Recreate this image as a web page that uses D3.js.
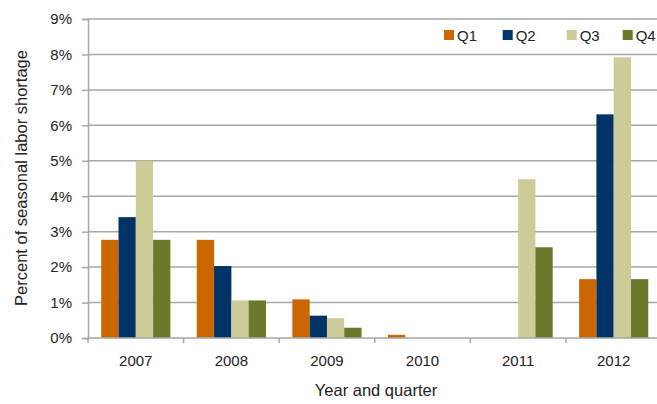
<!DOCTYPE html>
<html>
<head>
<meta charset="utf-8">
<script src="https://cdn.jsdelivr.net/npm/d3@7"></script>
<style>
  html, body { margin: 0; padding: 0; background: #fff; }
  svg { display: block; }
  text { font-family: "Liberation Sans", Arial, sans-serif; fill: #222; }
</style>
</head>
<body>
<svg id="chart" width="657" height="404"></svg>
<script>
// Seasonal labor shortage by year and quarter (percent)
const years = ["2007", "2008", "2009", "2010", "2011", "2012"];
const quarters = ["Q1", "Q2", "Q3", "Q4"];
const q1 = [2.77, 2.77, 1.09, 0.09, 0, 1.66];
const q2 = [3.41, 2.03, 0.63, 0, 0, 6.31];
const q3 = [5.0, 1.06, 0.56, 0, 4.48, 7.92];
const q4 = [2.77, 1.06, 0.29, 0, 2.56, 1.66];
const yTicks = [0, 1, 2, 3, 4, 5, 6, 7, 8, 9];
const colors = ["#cc6600", "#003366", "#cccc99", "#6b792b"];

const series = [q1, q2, q3, q4];
const svg = d3.select("#chart");
const plotLeft = 88, plotRight = 661.5, plotTop = 19, plotBottom = 338;

const x = d3.scaleBand().domain(years).range([plotLeft, plotRight]).paddingInner(0).paddingOuter(0);
const xq = d3.scaleBand().domain(quarters).range([0, x.bandwidth()]).paddingInner(0).paddingOuter(0.765);
const y = d3.scaleLinear().domain([0, 9]).range([plotBottom, plotTop]);

// horizontal gridlines
svg.append("g")
  .selectAll("line")
  .data(yTicks.filter(d => d > 0))
  .join("line")
  .attr("x1", plotLeft).attr("x2", 657)
  .attr("y1", d => y(d)).attr("y2", d => y(d))
  .attr("stroke", "#a6a6a6").attr("stroke-width", 1.5);

// bars
const groups = svg.append("g").selectAll("g")
  .data(years)
  .join("g")
  .attr("transform", d => `translate(${x(d)},0)`);

groups.selectAll("rect")
  .data((d, i) => quarters.map((q, j) => ({ q, v: series[j][i], c: colors[j] })).filter(e => e.v > 0))
  .join("rect")
  .attr("x", d => xq(d.q))
  .attr("width", xq.bandwidth())
  .attr("y", d => y(d.v))
  .attr("height", d => y(0) - y(d.v))
  .attr("fill", d => d.c);

// y axis
const yAxis = d3.axisLeft(y).tickValues(yTicks).tickFormat(d => d + "%").tickSize(6).tickPadding(10);
const yg = svg.append("g").attr("transform", `translate(${plotLeft},0)`).call(yAxis);
yg.select(".domain").attr("stroke", "#a6a6a6").attr("stroke-width", 1.5);
yg.selectAll(".tick line").attr("stroke", "#a6a6a6").attr("stroke-width", 1.5);
yg.selectAll(".tick text").style("font-size", "15px").attr("fill", "#222")
  .style("font-family", '"Liberation Sans", Arial, sans-serif');

// x axis baseline and category boundary ticks
svg.append("line")
  .attr("x1", plotLeft).attr("x2", 657)
  .attr("y1", plotBottom).attr("y2", plotBottom)
  .attr("stroke", "#a6a6a6").attr("stroke-width", 1.5);
svg.append("g").selectAll("line")
  .data(years)
  .join("line")
  .attr("x1", d => x(d)).attr("x2", d => x(d))
  .attr("y1", plotBottom).attr("y2", plotBottom + 5)
  .attr("stroke", "#a6a6a6").attr("stroke-width", 1.5);
svg.append("g").selectAll("text")
  .data(years)
  .join("text")
  .attr("x", d => x(d) + x.bandwidth() / 2)
  .attr("y", 366)
  .attr("text-anchor", "middle")
  .style("font-size", "15px")
  .text(d => d);

// axis titles
svg.append("text")
  .attr("x", 376).attr("y", 396)
  .attr("text-anchor", "middle")
  .style("font-size", "16.5px")
  .text("Year and quarter");
svg.append("text")
  .attr("transform", "translate(27,178) rotate(-90)")
  .attr("text-anchor", "middle")
  .style("font-size", "16.5px")
  .text("Percent of seasonal labor shortage");

// legend
const legend = svg.append("g").attr("transform", "translate(444,35)");
const lg = legend.selectAll("g")
  .data(quarters)
  .join("g")
  .attr("transform", (d, i) => `translate(${[0, 58.7, 122.7, 178.7][i]},0)`);
lg.append("rect").attr("x", 0).attr("y", -5).attr("width", 10).attr("height", 10)
  .attr("fill", (d, i) => colors[i]);
lg.append("text").attr("x", 13).attr("y", 5.5).style("font-size", "15px").text(d => d);
</script>
</body>
</html>
